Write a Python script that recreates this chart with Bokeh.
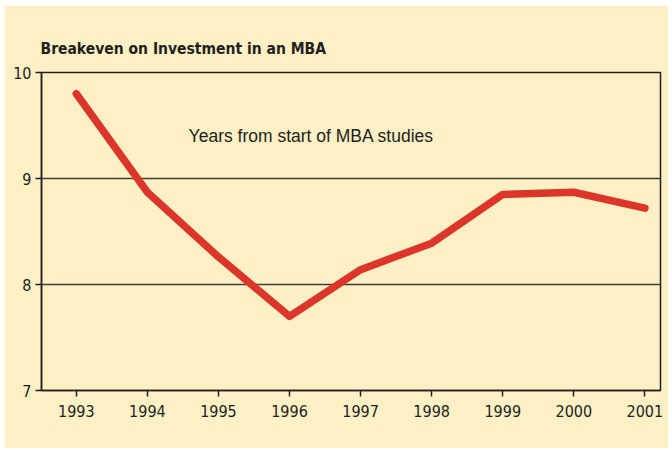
from bokeh.plotting import figure
from bokeh.models import Range1d, FixedTicker, Label, Spacer
from bokeh.layouts import column, row
from bokeh.embed import file_html
from bokeh.resources import INLINE

years = [1993, 1994, 1995, 1996, 1997, 1998, 1999, 2000, 2001]
breakeven = [9.80, 8.87, 8.26, 7.70, 8.14, 8.39, 8.85, 8.87, 8.72]
y_ticks = [7, 8, 9, 10]
title_text = "Breakeven on Investment in an MBA"
note_text = "Years from start of MBA studies"

BG = "#FDF0C4"
INK = "#231F20"
RED = "#DC3529"

p = figure(width=664, height=443, output_backend="svg", toolbar_location=None,
           x_range=Range1d(1992.51, 2001.22), y_range=Range1d(7, 10),
           min_border_left=37, min_border_right=8, min_border_bottom=58, min_border_top=67,
           background_fill_color=BG, border_fill_color=BG)

p.title.text = title_text
p.title.text_font = "DejaVu Sans Condensed"
p.title.text_font_size = "15.5px"
p.title.text_font_style = "bold"
p.title.text_color = INK
p.title.offset = -1
p.title.standoff = 30

p.outline_line_color = INK
p.outline_line_width = 1.5

p.xaxis.ticker = FixedTicker(ticks=years)
p.yaxis.ticker = FixedTicker(ticks=y_ticks)
for ax in (p.xaxis, p.yaxis):
    ax.axis_line_color = INK
    ax.axis_line_width = 1.5
    ax.major_tick_line_color = INK
    ax.major_tick_line_width = 1.5
    ax.major_tick_in = 0
    ax.major_tick_out = 6
    ax.minor_tick_line_color = None
    ax.major_label_text_font = "DejaVu Sans Condensed"
    ax.major_label_text_font_size = "16px"
    ax.major_label_text_color = INK
p.xaxis.major_label_standoff = 8
p.yaxis.major_label_standoff = 4

p.xgrid.grid_line_color = None
p.ygrid.ticker = FixedTicker(ticks=[8, 9])
p.ygrid.grid_line_color = "#3E3E38"
p.ygrid.grid_line_width = 1.3

p.line(years, breakeven, line_color=RED, line_width=7.5, line_join="round", line_cap="round")

p.add_layout(Label(x=1994.58, y=9.40, text=note_text, text_font="Liberation Sans",
                   text_font_size="17.5px", text_color=INK, text_baseline="middle"))

layout = column(Spacer(height=5), row(Spacer(width=4), p))
open("out.html", "w").write(file_html(layout, INLINE))
